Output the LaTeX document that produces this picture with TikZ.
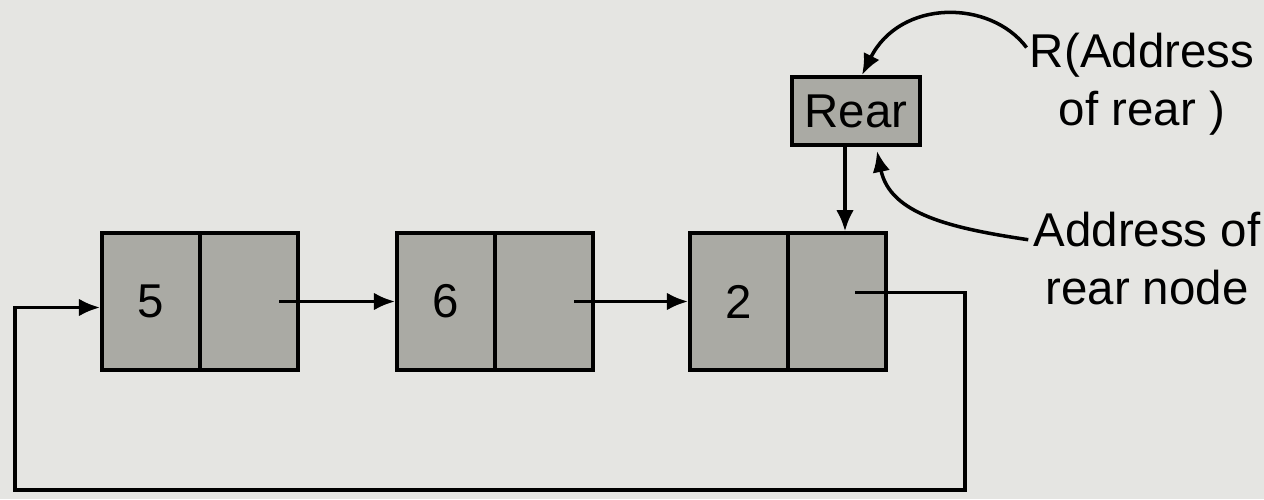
\documentclass[tikz,border=0pt]{standalone}
\usepackage{fontspec}
\setmainfont{Liberation Sans}
\usetikzlibrary{arrows.meta}
\definecolor{bggray}{RGB}{229,229,226}
\definecolor{cellgray}{RGB}{170,170,164}
\tikzset{
  cell/.style={draw,fill=cellgray,line width=2.2pt,minimum width=1.96cm,minimum height=2.73cm,inner sep=0pt},
  link/.style={line width=2pt,-{Latex[length=12pt,width=10pt]}},
  lbl/.style={align=center,inner sep=0pt,font=\fontsize{27}{33}\selectfont}
}
\begin{document}
\begin{tikzpicture}
  \fill[bggray] (0,0) rectangle (25.28,9.98);
  \useasboundingbox (0,0) rectangle (25.28,9.98);
  % list nodes: data cell + pointer cell
  \foreach \n/\v/\x in {a/5/2.04, b/6/7.94, c/2/13.8} {
    \node[cell,font=\fontsize{27}{33}\selectfont] (d\n) at (\x+0.98,3.95) {\v};
    \node[cell] (p\n) at (\x+2.94,3.95) {};
  }
  \draw[link] ([xshift=0.6cm]pa.center) -- (db.west);
  \draw[link] ([xshift=0.6cm]pb.center) -- (dc.west);
  % wrap-around link back to the first node
  \coordinate (br) at (19.3,0.18);
  \coordinate (bl) at (0.3,0.18);
  \draw[link] ([xshift=0.36cm,yshift=0.18cm]pc.center) -| (br) -- (bl) |- ([yshift=-0.12cm]da.west);
  % rear pointer
  \node[draw,fill=cellgray,line width=2.2pt,minimum width=2.56cm,minimum height=1.36cm,inner sep=0pt,font=\fontsize{27}{33}\selectfont] (rear) at (17.12,7.76) {Rear};
  \draw[link] ([xshift=-0.22cm]rear.south) -- ([xshift=-0.22cm]rear.south |- pc.north);
  \node[lbl] (lblR) at (22.84,8.3) {R(Address\\of rear )};
  \node[lbl] (lblA) at (22.94,4.8) {Address of\\rear node};
  \draw[link] ([xshift=-0.06cm,yshift=-0.3cm]lblR.north west) .. controls (19.8,10.0) and (18.0,10.0) .. ([xshift=0.12cm]rear.north);
  \draw[link] ([xshift=-0.1cm,yshift=-0.55cm]lblA.north west) .. controls (19.0,5.42) and (17.8,5.7) .. ([xshift=0.42cm,yshift=-0.08cm]rear.south);
\end{tikzpicture}
\end{document}
